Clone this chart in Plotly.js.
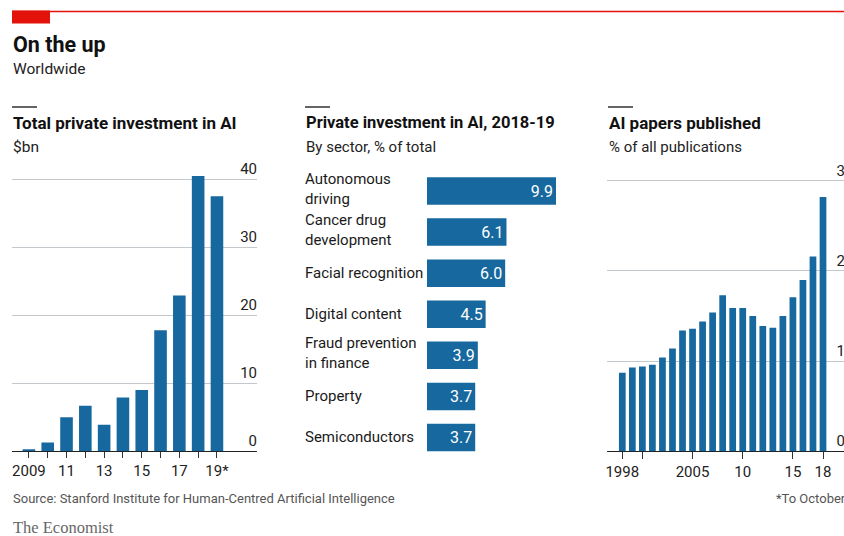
<!DOCTYPE html>
<html><head><meta charset="utf-8">
<script src="https://cdn.plot.ly/plotly-3.0.1.min.js"></script>
<style>html,body{margin:0;padding:0;overflow:hidden;background:#fff;width:844px;height:536px}#c{width:870px;height:536px}</style>
</head><body><div id="c"></div><script>
// ---- data ----
const investYears = [2009,2010,2011,2012,2013,2014,2015,2016,2017,2018,2019];
const investValues = [0.3,1.3,5.0,6.7,3.9,7.9,9.0,17.8,22.9,40.5,37.5];
const investTickLabels = ['2009','','11','','13','','15','','17','','19*'];
const investYTicks = [0,10,20,30,40];

const sectorNames = ['Autonomous<br>driving','Cancer drug<br>development','Facial recognition','Digital content','Fraud prevention<br>in finance','Property','Semiconductors'];
const sectorShares = [9.9,6.1,6.0,4.5,3.9,3.7,3.7];

const paperYears = [1998,1999,2000,2001,2002,2003,2004,2005,2006,2007,2008,2009,2010,2011,2012,2013,2014,2015,2016,2017,2018];
const paperShares = [0.87,0.93,0.94,0.96,1.04,1.14,1.34,1.36,1.44,1.54,1.73,1.59,1.59,1.50,1.39,1.37,1.50,1.71,1.90,2.16,2.82];
const paperTickVals = [1998,2000,2005,2010,2015,2018];
const paperTickLabels = ['1998','','2005','10','15','18'];
const paperYTicks = [0,1,2,3];

// ---- layout helpers ----
const W = 870, H = 536;
const px = x => x / W;
const py = y => 1 - y / H;
const FONT = 'Roboto, Arial, sans-serif';
const BLUE = '#16689e';
const GRID = '#c3c8cc';
const TXT = '#1a1a1a';

const traces = [
  {type:'bar', x: investYears, y: investValues, xaxis:'x', yaxis:'y', marker:{color:BLUE}, hoverinfo:'skip'},
  {type:'bar', orientation:'h', x: sectorShares, y: sectorNames, xaxis:'x2', yaxis:'y2',
   marker:{color:BLUE}, text: sectorShares.map(v => v.toFixed(1)), textposition:'inside',
   insidetextanchor:'end', textfont:{color:'#ffffff', size:16, family:FONT}, constraintext:'none', hoverinfo:'skip'},
  {type:'bar', x: paperYears, y: paperShares, xaxis:'x3', yaxis:'y3', marker:{color:BLUE}, hoverinfo:'skip'}
];

const ann = (text, x, y, opts={}) => Object.assign({text, x:px(x), y:py(y), xref:'paper', yref:'paper',
  xanchor:'left', yanchor:'middle', showarrow:false, align:'left', font:{family:FONT, size:16, color:TXT}}, opts);

const annotations = [
  ann('<b>On the up</b>', 11, 44, {font:{family:FONT, size:21.5, color:'#111'}}),
  ann('Worldwide', 11, 69, {font:{family:FONT, size:15.5, color:'#222'}}),
  ann('<b>Total private investment in AI</b>', 11, 123, {font:{family:FONT, size:17, color:'#111'}}),
  ann('$bn', 11, 147, {font:{family:FONT, size:15.5, color:'#222'}}),
  ann('<b>Private investment in AI, 2018-19</b>', 304, 123, {font:{family:FONT, size:16.5, color:'#111'}}),
  ann('By sector, % of total', 304, 147, {font:{family:FONT, size:15, color:'#222'}}),
  ann('<b>AI papers published</b>', 607, 123, {font:{family:FONT, size:17, color:'#111'}}),
  ann('% of all publications', 607, 147, {font:{family:FONT, size:15, color:'#222'}}),
  ann('Source: Stanford Institute for Human-Centred Artificial Intelligence', 11, 498, {font:{family:FONT, size:13, color:'#555'}}),
  ann('*To October', 848, 498, {xanchor:'right', font:{family:FONT, size:13, color:'#555'}}),
  ann('The Economist', 11, 527, {font:{family:'Liberation Serif, DejaVu Serif, serif', size:16.5, color:'#666'}})
];
// sector labels, left aligned
sectorNames.forEach(name => {
  const n = name.split('<br>').length;
  annotations.push({text: name, x: px(304), xref:'paper', y: name, yref:'y2', xanchor:'left', yanchor:'middle',
    yshift: n > 1 ? 2 : 0, showarrow:false, align:'left', borderpad:0,
    font:{family:FONT, size:15, color:TXT}});
});

const shapes = [
  {type:'line', xref:'paper', yref:'paper', x0:px(12), x1:1, y0:py(11.5), y1:py(11.5), line:{color:'#e3120b', width:1.3}},
  {type:'rect', xref:'paper', yref:'paper', x0:px(12), x1:px(50), y0:py(10.5), y1:py(23.5), fillcolor:'#e3120b', line:{width:0}},
  {type:'line', xref:'paper', yref:'paper', x0:px(12), x1:px(37), y0:py(107), y1:py(107), line:{color:'#111', width:1.3}},
  {type:'line', xref:'paper', yref:'paper', x0:px(305), x1:px(330), y0:py(107), y1:py(107), line:{color:'#111', width:1.3}},
  {type:'line', xref:'paper', yref:'paper', x0:px(608), x1:px(633), y0:py(107), y1:py(107), line:{color:'#111', width:1.3}}
];

const tickFont = {family:FONT, size:15, color:'#222'};
const layout = {
  width: W, height: H, margin:{l:0, r:0, t:0, b:0}, paper_bgcolor:'#fff', plot_bgcolor:'#fff',
  showlegend:false, bargap:0.33, font:{family:FONT, color:TXT},
  xaxis:{domain:[px(12), px(257)], range:[2008.1, 2021.13], tickvals: investYears, ticktext: investTickLabels,
    ticks:'outside', ticklen:6, tickwidth:1, tickcolor:'#333', showgrid:false, zeroline:false, showline:false,
    tickfont:tickFont, anchor:'y', fixedrange:true},
  yaxis:{domain:[py(451.3), py(155.5)], range:[0, 43.5], side:'right', ticklabelposition:'inside top',
    ticklabelstandoff:-3,
    tickvals: investYTicks, gridcolor:GRID, gridwidth:1, zeroline:true, zerolinecolor:'#222', zerolinewidth:1.5,
    showline:false, ticks:'', tickfont:tickFont, anchor:'x', fixedrange:true},
  xaxis2:{domain:[px(427), px(557.3)], range:[0, 10], visible:false, anchor:'y2', fixedrange:true},
  yaxis2:{domain:[py(458), py(170.5)], range:[6.5, -0.5], type:'category', showticklabels:false, showgrid:false,
    zeroline:false, showline:false, ticks:'', anchor:'x2', fixedrange:true},
  xaxis3:{domain:[px(607), px(848)], range:[1996.475, 2020.49], tickvals: paperTickVals, ticktext: paperTickLabels,
    ticks:'outside', ticklen:7, tickwidth:1, tickcolor:'#333', showgrid:false, zeroline:false, showline:false,
    tickfont:tickFont, anchor:'y3', fixedrange:true},
  yaxis3:{domain:[py(451.3), py(158.3)], range:[0, 3.25], side:'right', ticklabelposition:'inside top',
    tickvals: paperYTicks, gridcolor:GRID, gridwidth:1, zeroline:true, zerolinecolor:'#222', zerolinewidth:1.5,
    showline:false, ticks:'', tickfont:tickFont, anchor:'x3', fixedrange:true},
  annotations, shapes
};
Plotly.newPlot('c', traces, layout, {staticPlot:true, displayModeBar:false});
</script></body></html>
